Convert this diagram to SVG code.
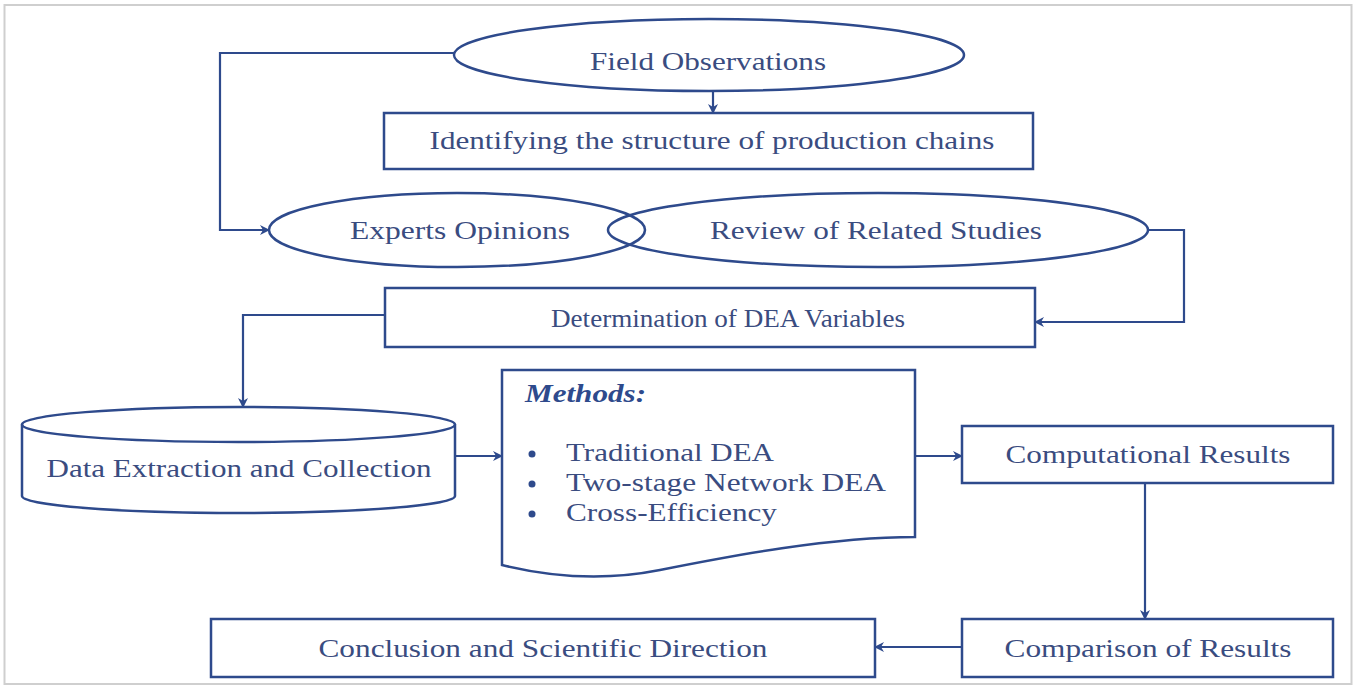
<svg xmlns="http://www.w3.org/2000/svg" width="1357" height="688" viewBox="0 0 1357 688">
  <defs>
    <marker id="arrow" viewBox="0 0 10 10" refX="9" refY="5" markerWidth="11" markerHeight="10" markerUnits="userSpaceOnUse" orient="auto">
      <path d="M0,0 L10,5 L0,10 L3,5 Z" fill="#2E4A8C"/>
    </marker>
  </defs>
  <style>
    .shape { fill: #ffffff; stroke: #2E4A8C; stroke-width: 2.5; }
    .edge { fill: none; stroke: #2E4A8C; stroke-width: 2.2; marker-end: url(#arrow); }
    text { font-family: "Liberation Serif", Tinos, "Times New Roman", "DejaVu Serif", serif; font-size: 26px; fill: #3A4C80; }
    .label { text-anchor: middle; }
    .title { fill: #2E4A8C; font-weight: bold; font-style: italic; }
  </style>

  <rect x="0" y="0" width="1357" height="688" fill="#ffffff"/>
  <rect x="4.5" y="5" width="1347" height="679" fill="none" stroke="#cfcfcf" stroke-width="2"/>

  <!-- connectors -->
  <g id="connectors">
    <line class="edge" x1="713" y1="91" x2="713" y2="113"/>
    <polyline class="edge" points="454,53 220,53 220,230 269,230"/>
    <polyline class="edge" points="1148,230 1184,230 1184,322 1035,322"/>
    <polyline class="edge" points="385,315 243,315 243,407"/>
    <line class="edge" x1="455" y1="456" x2="502" y2="456"/>
    <line class="edge" x1="915" y1="456" x2="962" y2="456"/>
    <line class="edge" x1="1145" y1="483" x2="1145" y2="619"/>
    <line class="edge" x1="962" y1="647" x2="875" y2="647"/>
  </g>

  <g id="field-observations">
    <ellipse class="shape" cx="709" cy="55" rx="255" ry="36"/>
    <text class="label" x="708" y="70" textLength="236" lengthAdjust="spacingAndGlyphs">Field Observations</text>
  </g>

  <g id="production-chains">
    <rect class="shape" x="384" y="113" width="649" height="56"/>
    <text class="label" x="712" y="149" textLength="565" lengthAdjust="spacingAndGlyphs">Identifying the structure of production chains</text>
  </g>

  <g id="related-studies">
    <ellipse class="shape" cx="878" cy="230" rx="270" ry="37"/>
    <text class="label" x="876" y="239" textLength="332" lengthAdjust="spacingAndGlyphs">Review of Related Studies</text>
  </g>
  <g id="experts-opinions">
    <!-- outline only, so the rims of both ovals cross -->
    <ellipse cx="457" cy="230" rx="188" ry="37" fill="none" stroke="#2E4A8C" stroke-width="2.5"/>
    <text class="label" x="460" y="239" textLength="220" lengthAdjust="spacingAndGlyphs">Experts Opinions</text>
  </g>

  <g id="dea-variables">
    <rect class="shape" x="385" y="288" width="650" height="59"/>
    <text class="label" x="728" y="327" textLength="354" lengthAdjust="spacingAndGlyphs">Determination of DEA Variables</text>
  </g>

  <g id="data-collection">
    <path class="shape" d="M22,424.5 A216.5,17.5 0 0 1 455,424.5 V496 A216.5,17 0 0 1 22,496 Z"/>
    <path d="M22,424.5 A216.5,17.5 0 0 0 455,424.5" fill="none" stroke="#2E4A8C" stroke-width="2.5"/>
    <text class="label" x="239" y="477" textLength="385" lengthAdjust="spacingAndGlyphs">Data Extraction and Collection</text>
  </g>

  <g id="methods">
    <path class="shape" d="M502,370 H915 V537 C830,537 730,556 660,570 C610,580 555,578 502,565 Z"/>
    <text class="title" x="525" y="402" textLength="121" lengthAdjust="spacingAndGlyphs">Methods:</text>
    <circle cx="532" cy="454" r="3.5" fill="#2E4A8C"/>
    <circle cx="532" cy="484" r="3.5" fill="#2E4A8C"/>
    <circle cx="532" cy="514" r="3.5" fill="#2E4A8C"/>
    <text x="566" y="461" textLength="208" lengthAdjust="spacingAndGlyphs">Traditional DEA</text>
    <text x="566" y="491" textLength="320" lengthAdjust="spacingAndGlyphs">Two-stage Network DEA</text>
    <text x="566" y="521" textLength="211" lengthAdjust="spacingAndGlyphs">Cross-Efficiency</text>
  </g>

  <g id="computational-results">
    <rect class="shape" x="962" y="426" width="371" height="57"/>
    <text class="label" x="1148" y="463" textLength="285" lengthAdjust="spacingAndGlyphs">Computational Results</text>
  </g>

  <g id="comparison-results">
    <rect class="shape" x="962" y="619" width="371" height="58"/>
    <text class="label" x="1148" y="657" textLength="287" lengthAdjust="spacingAndGlyphs">Comparison of Results</text>
  </g>

  <g id="conclusion">
    <rect class="shape" x="211" y="619" width="664" height="58"/>
    <text class="label" x="543" y="657" textLength="449" lengthAdjust="spacingAndGlyphs">Conclusion and Scientific Direction</text>
  </g>
</svg>
